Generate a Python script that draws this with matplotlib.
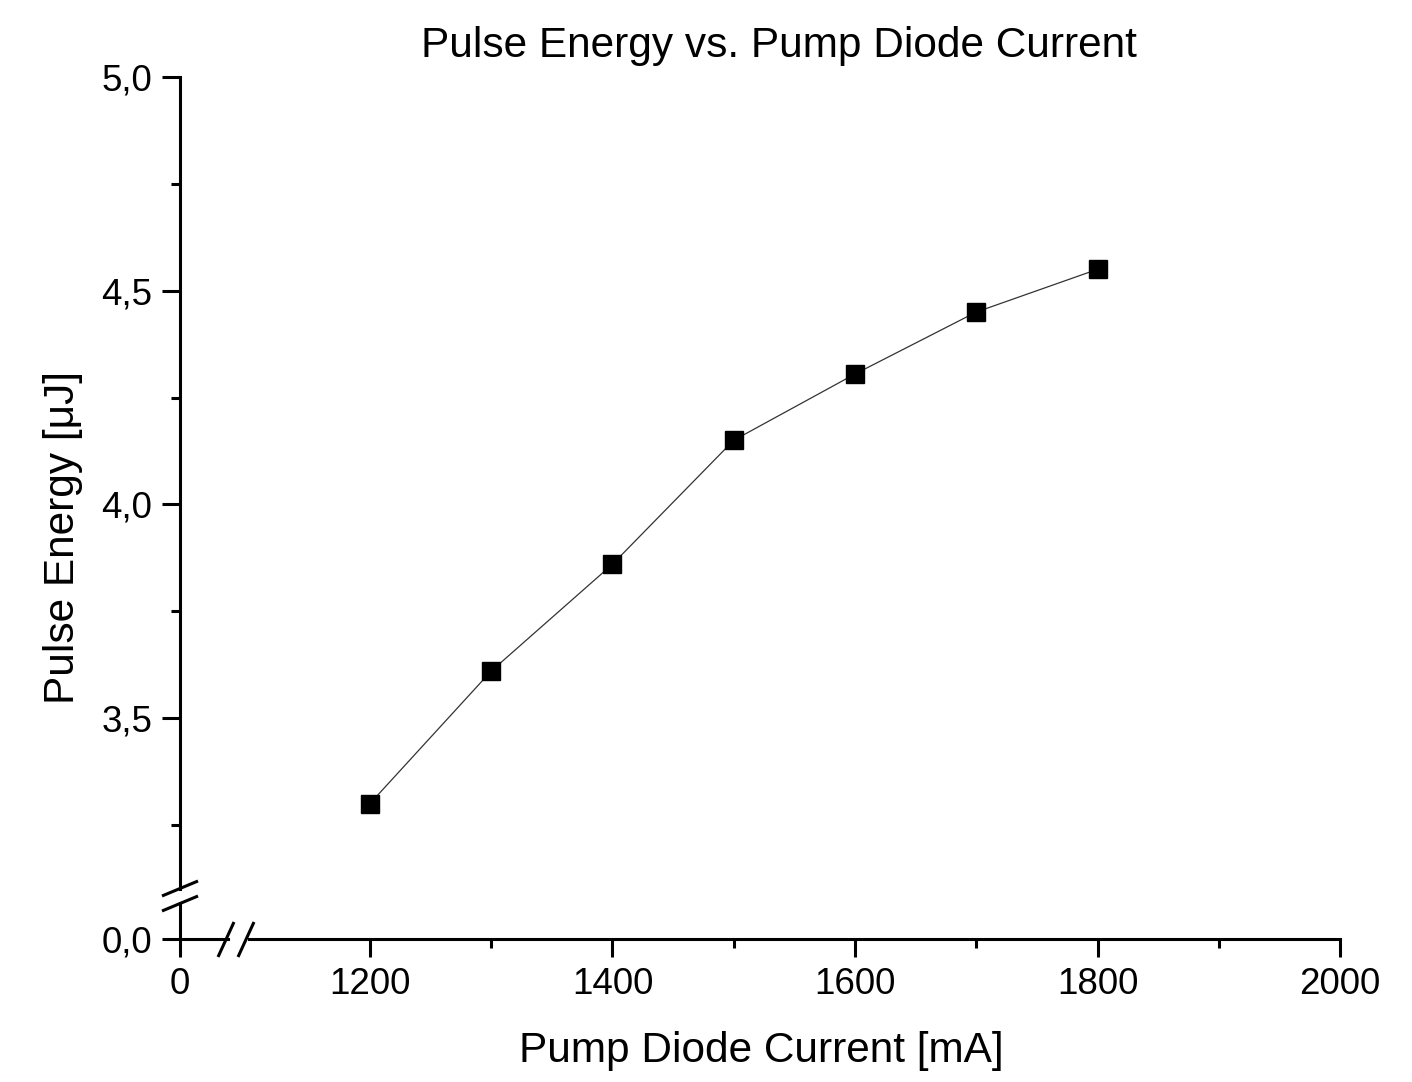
import matplotlib
matplotlib.use("Agg")
import matplotlib.pyplot as plt
from matplotlib.lines import Line2D
from matplotlib.ticker import FixedLocator, FixedFormatter

plt.rcParams['font.family'] = ['Liberation Sans', 'DejaVu Sans']

# ---- data ----
current_mA = [1200, 1300, 1400, 1500, 1600, 1700, 1800]
pulse_energy_uJ = [3.30, 3.61, 3.86, 4.15, 4.305, 4.45, 4.55]

x_major_ticks = [1200, 1400, 1600, 1800, 2000]
x_minor_ticks = [1300, 1500, 1700, 1900]
y_major_ticks = [3.5, 4.0, 4.5, 5.0]
y_major_labels = ["3,5", "4,0", "4,5", "5,0"]
y_minor_ticks = [3.25, 3.75, 4.25, 4.75]

title = "Pulse Energy vs. Pump Diode Current"
xlabel = "Pump Diode Current [mA]"
ylabel = "Pulse Energy [\u03bcJ]"

W, H = 1412, 1082
DPI = 100
fig = plt.figure(figsize=(W / DPI, H / DPI), dpi=DPI)

def fx(px):
    return px / W

def fy(py):
    return 1 - py / H

# pixel geometry
x_axis_px = 939
y_axis_px = 180
main_left, main_right = 248.75, 1340
main_top, main_bottom = 77, 889

lw = 2.2
tick_fs = 26.5
label_fs = 30.5

ax = fig.add_axes([fx(main_left), fy(main_bottom),
                   fx(main_right) - fx(main_left), fy(main_top) - fy(main_bottom)])
ax.plot(current_mA, pulse_energy_uJ, color='#333333', lw=0.9,
        marker='s', markersize=12.5, markerfacecolor='black', markeredgecolor='black')
ax.set_xlim(1100, 2000)
ax.set_ylim(3.1, 5.0)
ax.spines['top'].set_visible(False)
ax.spines['right'].set_visible(False)
ax.spines['left'].set_position(('outward', (main_left - y_axis_px) * 72 / DPI))
ax.spines['bottom'].set_position(('outward', (x_axis_px - main_bottom) * 72 / DPI))
for s in ('left', 'bottom'):
    ax.spines[s].set_linewidth(lw)
ax.xaxis.set_major_locator(FixedLocator(x_major_ticks))
ax.xaxis.set_minor_locator(FixedLocator(x_minor_ticks))
ax.yaxis.set_major_locator(FixedLocator(y_major_ticks))
ax.yaxis.set_major_formatter(FixedFormatter(y_major_labels))
ax.yaxis.set_minor_locator(FixedLocator(y_minor_ticks))
ax.tick_params(which='major', length=13, width=lw, direction='out', labelsize=tick_fs, pad=7)
ax.tick_params(which='minor', length=6.5, width=lw, direction='out')
ax.set_xlabel(xlabel, fontsize=label_fs)
ax.xaxis.set_label_coords((761 - main_left) / (main_right - main_left),
                          (main_bottom - 1031) / (main_bottom - main_top))
ax.set_ylabel(ylabel, fontsize=label_fs)
ax.yaxis.set_label_coords((83 - main_left) / (main_right - main_left),
                          (main_bottom - 537) / (main_bottom - main_top))
ax.set_title(title, fontsize=label_fs, x=(779 - main_left) / (main_right - main_left),
             pad=(main_top - 57) * 72 / DPI, y=1.0)

# corner axes (origin segment)
c_left, c_right = y_axis_px, 228
c_top = 903
axc = fig.add_axes([fx(c_left), fy(x_axis_px), fx(c_right) - fx(c_left), fy(c_top) - fy(x_axis_px)])
axc.set_xlim(0, (c_right - c_left) / 1.2125)
axc.set_ylim(0, (x_axis_px - c_top) / 427.4)
axc.patch.set_visible(False)
axc.spines['top'].set_visible(False)
axc.spines['right'].set_visible(False)
for s in ('left', 'bottom'):
    axc.spines[s].set_linewidth(lw)
axc.set_xticks([0])
axc.set_xticklabels(["0"])
axc.set_yticks([0])
axc.set_yticklabels(["0,0"])
axc.tick_params(which='major', length=13, width=lw, direction='out', labelsize=tick_fs, pad=7)

# break marks
def brk(x0, y0, x1, y1):
    fig.add_artist(Line2D([fx(x0), fx(x1)], [fy(y0), fy(y1)], transform=fig.transFigure,
                          color='black', lw=lw, solid_capstyle='butt'))

# y-axis break (between 889 and 903)
brk(162, 896, 198, 881)
brk(162, 911, 198, 896)
# x-axis break (between 228 and 249)
brk(218, 957, 234, 922)
brk(238, 957, 254, 922)

fig.savefig("out.png", dpi=DPI)
